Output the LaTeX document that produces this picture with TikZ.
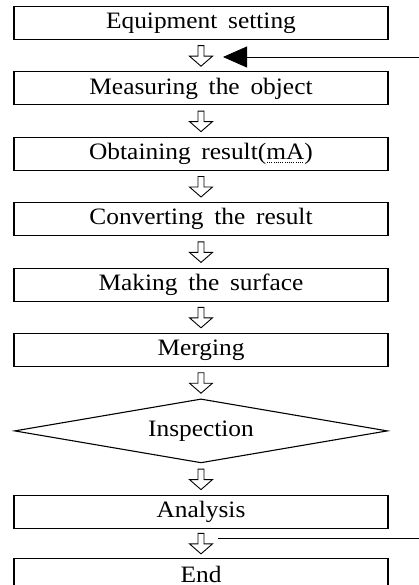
\documentclass[tikz,border=0pt]{standalone}
\usepackage{fontspec}
\setmainfont{Liberation Serif}[FakeStretch=1.08, WordSpace=1.7]
\usetikzlibrary{arrows.meta, positioning, calc, shapes.geometric}

% dotted underline
\newcommand{\dotmark}[1]{\setbox0=\hbox{#1}%
  \rlap{\hbox to \wd0{\leaders\hbox to 2.2pt{\hss\rule[-3.5pt]{0.9pt}{0.9pt}\hss}\hfill}}\box0}

\tikzset{
  stepbox/.style={draw, line width=1.1pt, minimum width=374pt, minimum height=33pt,
    inner sep=0pt, font=\fontsize{23.5pt}{28pt}\selectfont},
  checkbox/.style={draw, diamond, aspect=5.83, line width=1.1pt, minimum width=373pt,
    minimum height=64pt, inner sep=0pt, font=\fontsize{23.5pt}{28pt}\selectfont},
  flowarrow/.pic={
    \draw[line width=0.9pt, line join=miter]
      (-3,-10) -- (-3,0.5) -- (-11.5,0.5) -- (0,10.5) -- (11.5,0.5) -- (3,0.5) -- (3,-10) -- cycle;
  },
  loopline/.style={line width=0.8pt}
}

\begin{document}
\begin{tikzpicture}[x=1pt, y=-1pt, node distance=31.3pt]
  \useasboundingbox (0,0) rectangle (419,585);

  % process steps
  \node[stepbox] (setting) at (201,23) {Equipment setting};
  \node[stepbox, below=of setting] (measure) {Measuring the object};
  \node[stepbox, below=of measure] (result) {Obtaining result(\dotmark{mA})};
  \node[stepbox, below=of result] (convert) {Converting the result};
  \node[stepbox, below=of convert] (surface) {Making the surface};
  \node[stepbox, below=of surface] (merge) {Merging};
  \node[checkbox, below=of merge] (inspect) {Inspection};
  \node[stepbox, below=of inspect] (analysis) {Analysis};
  \node[stepbox, below=29pt of analysis] (finish) {End};

  % hollow arrows between the steps
  \foreach \a/\b in {setting/measure, measure/result, result/convert, convert/surface,
                     surface/merge, merge/inspect, inspect/analysis, analysis/finish} {
    \coordinate (\a-out) at ($(\a.south)!0.5!(\b.north)$);
    \path (\a-out) pic {flowarrow};
  }

  % loop back from the right side
  \coordinate (loopin) at (419,57);
  \coordinate (loopout) at (419,538);
  \draw[loopline, -{Triangle[length=24pt, width=21pt]}] (loopin) -- (loopin -| {$(setting-out)+(22,0)$});
  \draw[loopline] (loopout) -- (loopout -| {$(analysis-out)+(17,0)$});
\end{tikzpicture}
\end{document}
